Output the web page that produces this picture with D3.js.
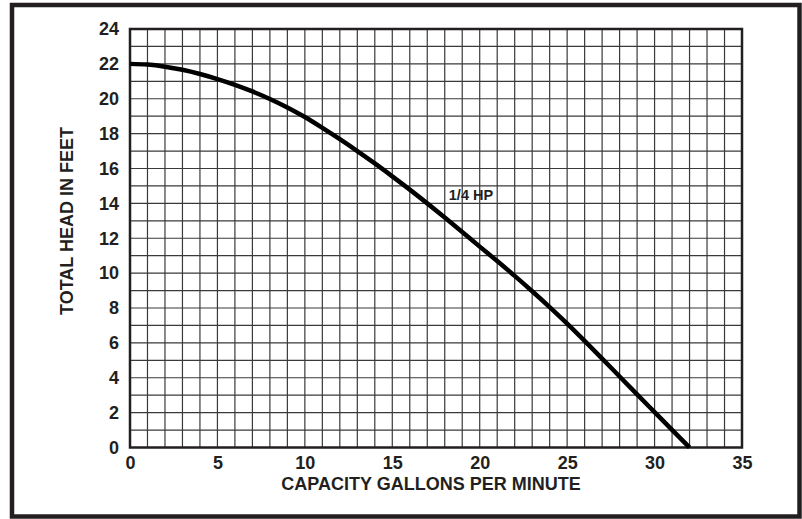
<!DOCTYPE html>
<html>
<head>
<meta charset="utf-8">
<script src="https://cdn.jsdelivr.net/npm/d3@7"></script>
<style>
  html, body { margin: 0; padding: 0; background: #fff; }
  svg { display: block; }
  text { font-family: "Liberation Sans", Arial, Helvetica, sans-serif; font-weight: bold; fill: #231f20; }
</style>
</head>
<body>
<svg id="chart" width="802" height="519"></svg>
<script>
// ---- data ----
const capacityGPM = [0,1,2,3,4,5,6,7,8,9,10,11,12,13,14,15,16,17,18,19,20,21,22,23,24,25,26,27,28,29,30,31,32];
const headFeet    = [22,21.96,21.84,21.66,21.42,21.13,20.80,20.42,19.99,19.50,18.95,18.33,17.68,17.00,16.29,15.55,14.79,14.00,13.19,12.36,11.52,10.69,9.84,8.96,8.05,7.10,6.11,5.10,4.07,3.05,2.03,1.01,0];
const xTicks = [0,5,10,15,20,25,30,35];
const yTicks = [0,2,4,6,8,10,12,14,16,18,20,22,24];
const seriesLabel = "1/4 HP";
const xTitle = "CAPACITY GALLONS PER MINUTE";
const yTitle = "TOTAL HEAD IN FEET";

(function () {
const svg = d3.select("#chart");
const ink = "#231f20";
const fontFam = "'Liberation Sans', Arial, sans-serif";

// outer frame
svg.append("rect").attr("x", 12).attr("y", 5).attr("width", 787.5).attr("height", 511.5)
  .attr("fill", "none").attr("stroke", ink).attr("stroke-width", 4.5);

const pl = 130, pr = 742, pt = 29, pb = 447.5;
const x = d3.scaleLinear().domain([0, 35]).range([pl, pr]);
const y = d3.scaleLinear().domain([0, 24]).range([pb, pt]);

// grid (every unit)
const g = svg.append("g");
g.selectAll(".vg").data(d3.range(1, 35)).join("line")
  .attr("x1", d => x(d)).attr("x2", d => x(d)).attr("y1", pt).attr("y2", pb)
  .attr("stroke", "#3a3a3a").attr("stroke-width", 1.2);
g.selectAll(".hg").data(d3.range(1, 24)).join("line")
  .attr("y1", d => y(d)).attr("y2", d => y(d)).attr("x1", pl).attr("x2", pr)
  .attr("stroke", "#3a3a3a").attr("stroke-width", 1.2);

// plot border
svg.append("rect").attr("x", pl).attr("y", pt).attr("width", pr - pl).attr("height", pb - pt)
  .attr("fill", "none").attr("stroke", ink).attr("stroke-width", 2.5);

// axes (tick labels)
const xAxis = svg.append("g").attr("transform", `translate(0,${pb})`)
  .call(d3.axisBottom(x).tickValues(xTicks).tickSize(0).tickPadding(9));
xAxis.select(".domain").remove();
xAxis.selectAll("text").style("font-size", "18px").style("font-family", fontFam).style("font-weight", "bold").attr("fill", ink);

const yAxis = svg.append("g").attr("transform", `translate(${pl},0)`)
  .call(d3.axisLeft(y).tickValues(yTicks).tickSize(0).tickPadding(11));
yAxis.select(".domain").remove();
yAxis.selectAll("text").style("font-size", "18px").style("font-family", fontFam).style("font-weight", "bold").attr("fill", ink);

// curve
const line = d3.line().x((d, i) => x(capacityGPM[i])).y(d => y(d)).curve(d3.curveMonotoneX);
svg.append("path").datum(headFeet).attr("d", line)
  .attr("fill", "none").attr("stroke", "#000").attr("stroke-width", 4.5);

// series label
svg.append("text").attr("x", x(19.5)).attr("y", y(14.2)).attr("text-anchor", "middle")
  .style("font-size", "14.5px").text(seriesLabel);

// titles
svg.append("text").attr("x", 431).attr("y", 490).attr("text-anchor", "middle")
  .style("font-size", "18px").text(xTitle);
svg.append("text").attr("transform", "translate(73,221) rotate(-90)").attr("text-anchor", "middle")
  .style("font-size", "18px").text(yTitle);
})();
</script>
</body>
</html>
